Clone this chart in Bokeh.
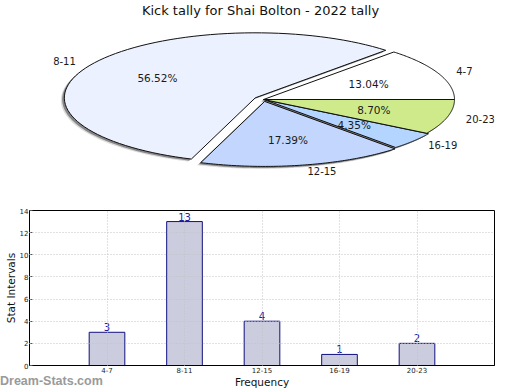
import numpy as np
from bokeh.plotting import figure
from bokeh.layouts import column
from bokeh.models import Range1d, FixedTicker, ColumnDataSource, Div
from bokeh.core.properties import value
from bokeh.embed import file_html
from bokeh.resources import INLINE

# ---------------- data ----------------
title_text = "Kick tally for Shai Bolton - 2022 tally"
categories = ["4-7", "8-11", "12-15", "16-19", "20-23"]
counts = [3, 13, 4, 1, 2]
pie_colors = ["#ffffff", "#ebf1fe", "#c3d7fe", "#b3d5ff", "#cfea8b"]
explode = [0.0, 0.05, 0.03, 0.012, 0.0]
y_ticks = [0, 2, 4, 6, 8, 10, 12, 14]
x_label = "Frequency"
y_label = "Stat Intervals"
watermark = "Dream-Stats.com"

FONT = "DejaVu Sans"
W = 520
H_PIE = 196
H_BAR = 194
BL, BR = 29, 26          # borders shared by both figures (their frames are aligned)
FX0, FX1 = BL, W - BR    # frame edges in page pixels

# ---------------- pie ----------------
pie = figure(width=W, height=H_PIE, x_range=Range1d(FX0, FX1), y_range=Range1d(H_PIE, 0),
             output_backend="svg", toolbar_location=None,
             x_axis_location=None, y_axis_location=None,
             min_border_left=BL, min_border_right=BR, min_border_top=0, min_border_bottom=0)
pie.outline_line_color = None
pie.grid.visible = False

cx, cy, rx, ry = 263, 99, 191, 65
vals = np.array(counts, dtype=float)
fr = vals / vals.sum()
ends = np.cumsum(fr) * 2 * np.pi
starts = ends - fr * 2 * np.pi
mids = (starts + ends) / 2

px_list, py_list = [], []
for s, e, m, ex in zip(starts, ends, mids, explode):
    ox = ex * rx * np.cos(m)
    oy = -ex * ry * np.sin(m)
    t = np.linspace(s, e, 80)
    px_list.append([cx + ox] + list(cx + ox + rx * np.cos(t)))
    py_list.append([cy + oy] + list(cy + oy - ry * np.sin(t)))

# shadows
pie.patches([list(np.array(x) - 3.5) for x in px_list], [list(np.array(y) + 2.5) for y in py_list],
            fill_color="#9a9a9a", fill_alpha=0.35, line_color=None)
pie.patches([list(np.array(x) - 2.2) for x in px_list], [list(np.array(y) + 1.6) for y in py_list],
            fill_color="#6a6a6a", fill_alpha=0.75, line_color=None)
pie.patches(px_list, py_list, fill_color=pie_colors, line_color="#111111", line_width=1)

pct_x, pct_y, pct_t, lab_x, lab_y, lab_align = [], [], [], [], [], []
for f, m, ex in zip(fr, mids, explode):
    ox = ex * rx * np.cos(m)
    oy = -ex * ry * np.sin(m)
    pct_x.append(cx + ox + 0.6 * rx * np.cos(m))
    pct_y.append(cy + oy - 0.6 * ry * np.sin(m))
    pct_t.append(f"{100 * f:.2f}%")
    lab_x.append(cx + ox + 1.1 * rx * np.cos(m))
    lab_y.append(cy + oy - 1.1 * ry * np.sin(m))
    lab_align.append("left" if np.cos(m) > 0 else "right")

pie.text(x=pct_x, y=pct_y, text=pct_t, text_align="center", text_baseline="middle",
         text_font=value(FONT), text_font_size="10.5px", text_color="#1a1a1a")
pie.text(x=lab_x, y=lab_y, text=categories, text_align=lab_align, text_baseline="middle",
         text_font=value(FONT), text_font_size="10px", text_color="#1a1a1a")
pie.text(x=[260], y=[10], text=[title_text], text_align="center", text_baseline="middle",
         text_font=value(FONT), text_font_size="13px", text_color="#111111")

# ---------------- bars ----------------
xpos = list(range(1, len(categories) + 1))
src = ColumnDataSource(dict(x=xpos, top=counts, label=[str(c) for c in counts]))

bar = figure(width=W, height=H_BAR, x_range=Range1d(0, len(categories) + 1),
             y_range=Range1d(y_ticks[0], y_ticks[-1]),
             output_backend="svg", toolbar_location=None,
             min_border_left=BL, min_border_right=BR, min_border_top=14, min_border_bottom=0)
bar.vbar(x="x", top="top", bottom=0, width=0.46, source=src,
         fill_color="#ccccdf", line_color="#10107f", line_width=1)
bar.text(x="x", y="top", text="label", source=src, text_align="center", text_baseline="middle",
         y_offset=-5, text_font=value(FONT), text_font_size="10px", text_color="#2020a0")

bar.xaxis.ticker = FixedTicker(ticks=xpos)
bar.xaxis.major_label_overrides = {x: c for x, c in zip(xpos, categories)}
bar.yaxis.ticker = FixedTicker(ticks=y_ticks)
bar.xgrid.ticker = FixedTicker(ticks=xpos)
bar.ygrid.ticker = FixedTicker(ticks=y_ticks)
bar.grid.grid_line_color = "#c2c2c2"
bar.grid.grid_line_dash = "1 2"
bar.grid.grid_line_width = 1
bar.grid.level = "overlay"

for ax in (bar.xaxis, bar.yaxis):
    ax.major_label_text_font = FONT
    ax.major_label_text_font_size = "7px"
    ax.major_label_text_color = "#222222"
    ax.axis_label_text_font = FONT
    ax.axis_label_text_font_size = "10.5px"
    ax.axis_label_text_font_style = "normal"
    ax.axis_label_text_color = "#111111"
    ax.axis_line_color = "black"
    ax.minor_tick_line_color = None
    ax.major_label_standoff = 1
    ax.axis_label_standoff = 0
bar.xaxis.major_tick_in = 0
bar.xaxis.major_tick_out = 0
bar.yaxis.major_tick_in = 3
bar.yaxis.major_tick_out = 0
bar.yaxis.major_tick_line_color = "#555555"
bar.xaxis.axis_label = x_label
bar.yaxis.axis_label = y_label
bar.outline_line_color = "black"
bar.outline_line_alpha = 1.0

mark = Div(text=watermark, width=120, height=14, margin=(-16, 0, 0, 0),
           styles={"font-family": "Liberation Sans", "font-weight": "bold", "font-size": "12.5px",
                   "color": "#9a9a9a", "line-height": "14px", "position": "relative", "z-index": "5",
                   "white-space": "nowrap"})

layout = column(pie, bar, mark, spacing=0)
open("out.html", "w").write(file_html(layout, INLINE))
